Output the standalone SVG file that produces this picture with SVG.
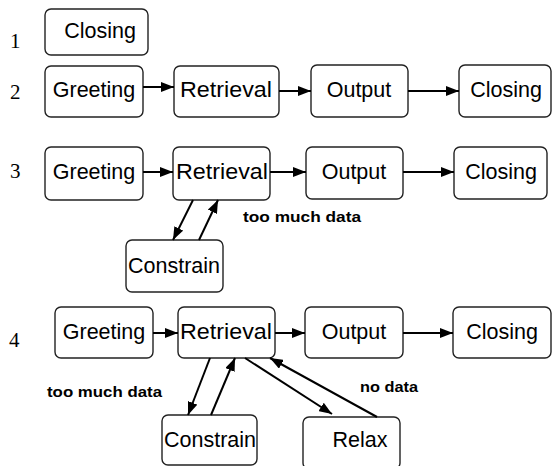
<svg xmlns="http://www.w3.org/2000/svg" width="555" height="466" viewBox="0 0 555 466">
<defs>
<marker id="ah" viewBox="0 0 13 10" refX="13" refY="5" markerWidth="13" markerHeight="10" markerUnits="userSpaceOnUse" orient="auto">
<path d="M0,0 L13,5 L0,10 Z" fill="#000"/>
</marker>
<style>
.box{fill:#fff;stroke:#222;stroke-width:1.4}
.lbl{font-family:"Liberation Sans",Arial,sans-serif;font-size:21.5px;fill:#000;text-anchor:middle}
.num{font-family:"Liberation Serif","Times New Roman",serif;font-size:21px;fill:#000}
.note{font-family:"Liberation Sans",Arial,sans-serif;font-size:14.5px;font-weight:bold;fill:#000}
.c{fill:none;stroke:#000;stroke-width:2;marker-end:url(#ah)}
</style>
</defs>
<rect width="555" height="466" fill="#fff"/>
<g id="numbers">
<text class="num" x="10" y="48">1</text>
<text class="num" x="10" y="99">2</text>
<text class="num" x="10" y="178">3</text>
<text class="num" x="9" y="347">4</text>
</g>
<g id="r1-closing"><rect class="box" x="45" y="9" width="103" height="46" rx="6"/><text class="lbl" x="100" y="38">Closing</text></g>

<g id="r2-greeting"><rect class="box" x="45" y="66" width="98" height="51" rx="6"/><text class="lbl" x="94" y="97">Greeting</text></g>
<g id="r2-retrieval"><rect class="box" x="174" y="66" width="105" height="51" rx="6"/><text class="lbl" x="226" y="97" textLength="92" lengthAdjust="spacingAndGlyphs">Retrieval</text></g>
<g id="r2-output"><rect class="box" x="311" y="65" width="97" height="52" rx="6"/><text class="lbl" x="359" y="97">Output</text></g>
<g id="r2-closing"><rect class="box" x="459" y="65" width="92" height="52" rx="6"/><text class="lbl" x="506" y="97">Closing</text></g>

<g id="r3-greeting"><rect class="box" x="45" y="147" width="98" height="53" rx="6"/><text class="lbl" x="94" y="179">Greeting</text></g>
<g id="r3-retrieval"><rect class="box" x="173" y="147" width="97" height="53" rx="6"/><text class="lbl" x="222" y="179" textLength="92" lengthAdjust="spacingAndGlyphs">Retrieval</text></g>
<g id="r3-output"><rect class="box" x="306" y="147" width="97" height="52" rx="6"/><text class="lbl" x="354" y="179">Output</text></g>
<g id="r3-closing"><rect class="box" x="454" y="147" width="93" height="52" rx="6"/><text class="lbl" x="501" y="179">Closing</text></g>
<g id="r3-constrain"><rect class="box" x="126" y="240" width="97" height="52" rx="6"/><text class="lbl" x="174" y="273">Constrain</text></g>

<g id="r4-greeting"><rect class="box" x="55" y="307" width="98" height="51" rx="6"/><text class="lbl" x="104" y="339">Greeting</text></g>
<g id="r4-retrieval"><rect class="box" x="178" y="307" width="97" height="51" rx="6"/><text class="lbl" x="226" y="339" textLength="92" lengthAdjust="spacingAndGlyphs">Retrieval</text></g>
<g id="r4-output"><rect class="box" x="305" y="307" width="98" height="51" rx="6"/><text class="lbl" x="354" y="339">Output</text></g>
<g id="r4-closing"><rect class="box" x="453" y="307" width="98" height="51" rx="6"/><text class="lbl" x="502" y="339">Closing</text></g>
<g id="r4-constrain"><rect class="box" x="162" y="415" width="95" height="50" rx="6"/><text class="lbl" x="210" y="447">Constrain</text></g>
<g id="r4-relax"><rect class="box" x="303" y="417" width="97" height="52" rx="6"/><text class="lbl" x="360" y="447">Relax</text></g>

<g id="notes">
<text class="note" x="243" y="222" textLength="118" lengthAdjust="spacingAndGlyphs">too much data</text>
<text class="note" x="47" y="397" textLength="115" lengthAdjust="spacingAndGlyphs">too much data</text>
<text class="note" x="360" y="392" textLength="58" lengthAdjust="spacingAndGlyphs">no data</text>
</g>

<g id="connectors">
<line class="c" x1="143" y1="87" x2="174" y2="87"/>
<line class="c" x1="279" y1="91" x2="311" y2="91"/>
<line class="c" x1="408" y1="91" x2="459" y2="91"/>

<line class="c" x1="143" y1="172" x2="173" y2="172"/>
<line class="c" x1="270" y1="172" x2="306" y2="172"/>
<line class="c" x1="403" y1="172" x2="454" y2="172"/>
<line class="c" x1="193" y1="200" x2="173" y2="240"/>
<line class="c" x1="199" y1="240" x2="218" y2="200"/>

<line class="c" x1="153" y1="333" x2="178" y2="333"/>
<line class="c" x1="275" y1="333" x2="305" y2="333"/>
<line class="c" x1="403" y1="333" x2="453" y2="333"/>
<line class="c" x1="210" y1="358" x2="188" y2="415"/>
<line class="c" x1="211" y1="415" x2="235" y2="358"/>
<line class="c" x1="245" y1="358" x2="332" y2="414"/>
<line class="c" x1="377" y1="417" x2="270" y2="358"/>
</g>
</svg>
